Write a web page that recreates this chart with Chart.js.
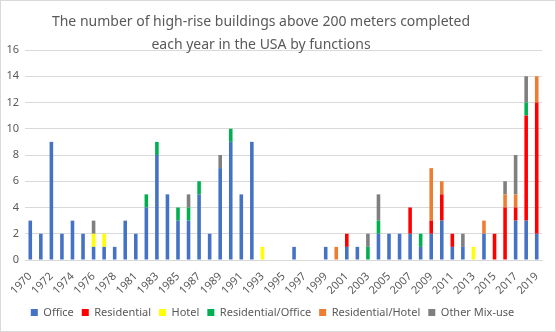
<!DOCTYPE html>
<html><head><meta charset="utf-8">
<script src="https://cdn.jsdelivr.net/npm/chart.js@4.4.0/dist/chart.umd.min.js"></script>
<style>
html,body{margin:0;padding:0;background:#fff;}
#wrap{position:absolute;left:0;top:0;width:554px;height:330px;border:1px solid #d9d9d9;}
canvas{display:block;}
</style></head><body>
<div id="wrap"><canvas id="c" width="554" height="330"></canvas></div>
<script>
const years = ['1970','1971','1972','1973','1974','1975','1976','1977','1978','1980',
 '1981','1982','1983','1984','1985','1986','1987','1988','1989','1990',
 '1991','1992','1993','1994','1995','1996','1997','1998','1999','2000',
 '2001','2002','2003','2004','2005','2006','2007','2008','2009','2010',
 '2011','2012','2013','2014','2015','2016','2017','2018','2019'];
const office      = [3,2,9,2,3,2,1,1,1,3, 2,4,8,5,3,3,5,2,7,9, 5,9,0,0,0,1,0,0,1,0, 1,1,0,2,2,2,2,1,2,3, 1,1,0,2,0,0,3,3,2];
const residential = [0,0,0,0,0,0,0,0,0,0, 0,0,0,0,0,0,0,0,0,0, 0,0,0,0,0,0,0,0,0,0, 1,0,0,0,0,0,2,0,1,2, 1,0,0,0,2,4,1,8,10];
const hotel       = [0,0,0,0,0,0,1,1,0,0, 0,0,0,0,0,0,0,0,0,0, 0,0,1,0,0,0,0,0,0,0, 0,0,0,0,0,0,0,0,0,0, 0,0,1,0,0,0,0,0,0];
const resOffice   = [0,0,0,0,0,0,0,0,0,0, 0,1,1,0,1,1,1,0,0,1, 0,0,0,0,0,0,0,0,0,0, 0,0,1,1,0,0,0,1,0,0, 0,0,0,0,0,0,0,1,0];
const resHotel    = [0,0,0,0,0,0,0,0,0,0, 0,0,0,0,0,0,0,0,0,0, 0,0,0,0,0,0,0,0,0,1, 0,0,0,0,0,0,0,0,4,1, 0,0,0,1,0,1,1,0,2];
const otherMix    = [0,0,0,0,0,0,1,0,0,0, 0,0,0,0,0,1,0,0,1,0, 0,0,0,0,0,0,0,0,0,0, 0,0,1,2,0,0,0,0,0,0, 0,1,0,0,0,1,3,2,0];
const seriesNames = ['Office','Residential','Hotel','Residential/Office','Residential/Hotel','Other Mix-use'];
const seriesColors = ['#4472C4','#FF0000','#FFFF00','#00B050','#ED7D31','#7F7F7F'];
const titleLines = ['The number of high-rise buildings above 200 meters completed','each year in the USA by functions'];
const yTicks = {min:0, max:16, step:2};

const FONT = '"Noto Sans", sans-serif';
const TXT = '#595959';

const titlePlugin = {
  id:'excelTitle',
  afterDraw(chart){
    const ctx = chart.ctx;
    ctx.save();
    ctx.font = '14px ' + FONT;
    ctx.fillStyle = TXT;
    ctx.textAlign = 'center';
    ctx.textBaseline = 'middle';
    ctx.fillText(titleLines[0], 260, 21);
    ctx.fillText(titleLines[1], 260, 44);
    ctx.restore();
  }
};

const allData = [office,residential,hotel,resOffice,resHotel,otherMix];
new Chart(document.getElementById('c'), {
  type:'bar',
  data:{
    labels: years,
    datasets: allData.map((d,i)=>({
      label: seriesNames[i],
      data: d,
      backgroundColor: seriesColors[i],
      borderWidth: 0,
      categoryPercentage: 1,
      barPercentage: 0.34
    }))
  },
  options:{
    responsive:false,
    animation:false,
    layout:{padding:{left:2,right:13,top:49,bottom:3}},
    scales:{
      x:{
        stacked:true,
        grid:{display:false},
        border:{display:true,color:'#d9d9d9'},
        ticks:{
          autoSkip:false, minRotation:45, maxRotation:45,
          color:TXT, font:{family:FONT,size:11}, padding:2,
          callback:function(v,i){ return i%2===0 ? this.getLabelForValue(v) : ''; }
        },
        afterFit(s){ s.height = 39; }
      },
      y:{
        stacked:true,
        min:yTicks.min, max:yTicks.max,
        grid:{color:'#d9d9d9', drawTicks:false},
        border:{display:false},
        ticks:{stepSize:yTicks.step, color:TXT, font:{family:FONT,size:11}, padding:6},
        afterFit(s){ s.width = 22; }
      }
    },
    plugins:{
      title:{display:false},
      tooltip:{enabled:false},
      legend:{
        position:'bottom',
        labels:{boxWidth:7, boxHeight:7, color:TXT, font:{family:FONT,size:11}, padding:8}
      }
    }
  },
  plugins:[titlePlugin]
});
</script>
</body></html>
